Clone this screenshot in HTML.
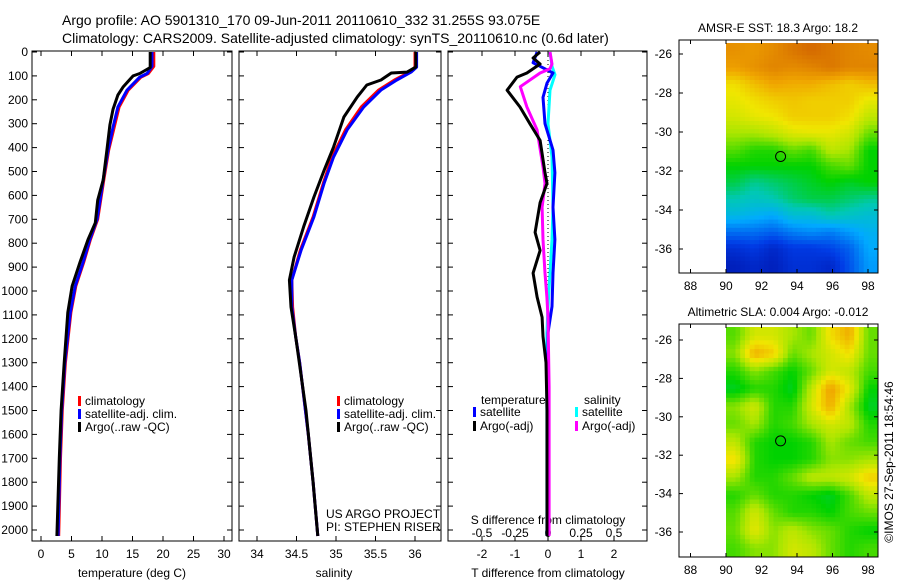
<!DOCTYPE html>
<html><head><meta charset="utf-8"><style>
body{margin:0;background:#fff;}
svg{display:block;font-family:"Liberation Sans",sans-serif;}
</style></head><body>
<svg id="c" width="900" height="580" xmlns="http://www.w3.org/2000/svg">
<text x="62" y="25" font-size="14">Argo profile: AO 5901310_170 09-Jun-2011 20110610_332 31.255S 93.075E</text>
<text x="62" y="43" font-size="14">Climatology: CARS2009. Satellite-adjusted climatology: synTS_20110610.nc (0.6d later)</text>
<g id="g"></g>
</svg>
<script>
// ---- data ----
const depthTicks=[0,100,200,300,400,500,600,700,800,900,1000,1100,1200,1300,1400,1500,1600,1700,1800,1900,2000];
const tTicks=[0,5,10,15,20,25,30];
const sTicks=[34,34.5,35,35.5,36];
const dTTicks=[-2,-1,0,1,2];
const dSTicks=[-0.5,-0.25,0,0.25,0.5];
const dSTickLabels=["-0.5","-0.25","0","0.25","0.5"];
// temperature profiles
const tArgoD=[0,65,90,100,145,180,240,305,410,535,620,715,785,880,980,1090,1300,1500,1700,2025];
const tArgo=[17.9,17.9,16.2,15.1,13.5,12.6,11.8,11.3,10.8,10.2,9.3,8.9,7.7,6.4,5.1,4.4,3.8,3.3,3.0,2.6];
const tClimD=[0,60,90,105,160,230,315,410,535,700,785,880,980,1090,1300,1500,1700,2025];
const tClim=[18.5,18.5,17.6,16.4,14.3,12.8,12.0,11.1,10.3,9.3,8.1,7.0,5.7,4.9,4.0,3.5,3.2,2.9];
const tSat=[18.2,18.2,17.4,16.2,14.1,12.6,11.8,11.0,10.2,9.2,8.0,6.9,5.6,4.8,3.9,3.4,3.1,2.8];
// salinity profiles
const sArgoD=[0,63,84,88,117,138,188,272,397,494,607,732,858,954,1067,1192,1500,1800,2025];
const sArgo=[36.01,36.01,35.90,35.70,35.57,35.39,35.27,35.10,34.97,34.85,34.72,34.59,34.47,34.41,34.43,34.49,34.62,34.71,34.77];
const sClimD=[0,63,84,117,159,230,326,439,548,690,828,954,1067,1192,1300,1600,1800,2025];
const sClim=[36.00,36.00,35.93,35.74,35.54,35.32,35.12,34.95,34.84,34.71,34.55,34.44,34.45,34.49,34.54,34.65,34.71,34.77];
const sSat=[36.02,36.02,35.95,35.77,35.57,35.35,35.14,34.97,34.85,34.72,34.56,34.44,34.44,34.49,34.54,34.65,34.71,34.77];
// differences
const dTArgoD=[0,25,50,88,105,160,230,300,370,505,550,630,755,830,925,1025,1110,1190,1300,1500,2025];
const dTArgo=[-0.24,-0.45,-0.24,-0.64,-0.94,-1.24,-0.85,-0.55,-0.24,-0.09,-0.03,-0.24,-0.39,-0.24,-0.45,-0.33,-0.18,-0.15,-0.06,-0.03,-0.03];
const dSArgoD=[0,50,70,88,145,230,325,480,550,650,785,925,1025,1110,1400,2025];
const dSArgo=[0.015,0.03,0.015,-0.06,-0.21,-0.16,-0.083,-0.038,-0.023,-0.045,-0.038,-0.023,-0.008,0,0.008,0.008];
const dTSatD=[0,45,60,88,130,190,300,410,505,650,785,925,1065,1175,1400,2025];
const dTSat=[-0.33,-0.45,-0.24,0.15,-0.03,-0.15,-0.09,0.15,0.21,0.15,0.21,0.15,0.12,0,0,0];
const dSSatD=[0,60,95,160,300,440,650,785,925,1065,1175,2025];
const dSSat=[0.015,0.03,0.053,0.015,0,0.03,0.038,0.03,0.015,0,-0.008,-0.008];
// maps
const lonTicks=[88,90,92,94,96,98];
const latTicks=[-26,-28,-30,-32,-34,-36];
const sstGrid=[
[.78,.77,.79,.82,.84,.82,.80,.79],
[.76,.78,.80,.79,.80,.82,.80,.80],
[.68,.72,.75,.74,.74,.72,.70,.72],
[.66,.68,.70,.71,.70,.70,.70,.66],
[.64,.66,.67,.70,.70,.70,.68,.62],
[.60,.60,.62,.65,.66,.66,.64,.56],
[.55,.52,.52,.56,.54,.62,.60,.50],
[.50,.50,.50,.50,.50,.54,.56,.50],
[.46,.42,.44,.46,.48,.50,.48,.50],
[.40,.38,.40,.44,.46,.46,.44,.42],
[.34,.32,.30,.36,.36,.40,.38,.36],
[.22,.22,.20,.24,.26,.24,.28,.32],
[.12,.14,.10,.14,.14,.16,.20,.30],
[.08,.10,.08,.12,.12,.10,.18,.28]];
const slaGrid=[
[.55,.64,.64,.60,.56,.68,.74,.56],
[.58,.74,.70,.56,.60,.64,.68,.56],
[.52,.58,.54,.50,.56,.64,.62,.54],
[.48,.52,.52,.48,.62,.76,.66,.50],
[.58,.64,.52,.52,.64,.74,.60,.48],
[.56,.60,.52,.54,.60,.64,.62,.52],
[.62,.52,.50,.50,.52,.60,.56,.54],
[.68,.52,.50,.50,.52,.58,.58,.60],
[.60,.52,.52,.56,.62,.62,.64,.70],
[.52,.56,.52,.52,.50,.48,.54,.62],
[.55,.64,.56,.52,.52,.50,.54,.56],
[.56,.66,.58,.62,.58,.56,.52,.50],
[.54,.58,.58,.64,.62,.56,.52,.54]];
const floatLon=93.075, floatLat=-31.255;

// ---- drawing ----
const NS="http://www.w3.org/2000/svg";
const G=document.getElementById('g');
function el(t,a,p){const e=document.createElementNS(NS,t);for(const k in a)e.setAttribute(k,a[k]);(p||G).appendChild(e);return e;}
function txt(x,y,s,anchor,size){const e=el('text',{x:x,y:y,'font-size':size||12,'text-anchor':anchor||'start'});e.textContent=s;return e;}
const yD=d=>52+d*0.239;
const P1={x0:32,x1:232,fx:v=>41+v*6.1};
const P2={x0:239,x1:441,fx:v=>257+(v-34)*79};
const P3={x0:448,x1:647,fx:v=>548+v*33,fs:v=>548+v*132};
const yTop=51,yBot=541;
function frame(P,name){const r=el('rect',{x:P.x0,y:yTop,width:P.x1-P.x0,height:yBot-yTop,fill:'none',stroke:'#000'});

}
function xTicks(P,vals,f,labels,y,name){vals.forEach((v,i)=>{const x=f(v);
el('line',{x1:x,x2:x,y1:yTop,y2:yTop+5,stroke:'#000'});el('line',{x1:x,x2:x,y1:yBot,y2:yBot-5,stroke:'#000'});
const t=txt(x,y,labels?labels[i]:String(v),'middle');

});}
function line(ds,vs,fx,col,w,name){const pts=ds.map((d,i)=>fx(vs[i]).toFixed(1)+','+yD(d).toFixed(1)).join(' ');
const p=el('polyline',{points:pts,fill:'none',stroke:col,'stroke-width':w||3,'stroke-linejoin':'round'});

}
// panel1
frame(P1,'temperature-panel');
depthTicks.forEach(d=>{const y=yD(d);el('line',{x1:P1.x0,x2:P1.x0+5,y1:y,y2:y,stroke:'#000'});el('line',{x1:P1.x1,x2:P1.x1-5,y1:y,y2:y,stroke:'#000'});
const t=txt(28,y+4,String(d),'end');

});
xTicks(P1,tTicks,P1.fx,null,558,'temperature-tick-label');
let t1=txt(132,577,'temperature (deg C)','middle');


line(tClimD,tClim,P1.fx,'#f00',3,'temperature-climatology-line');
line(tClimD,tSat,P1.fx,'#00f',3,'temperature-satellite-line');
line(tArgoD,tArgo,P1.fx,'#000',3,'temperature-argo-line');
// panel2
frame(P2,'salinity-panel');
depthTicks.forEach(d=>{const y=yD(d);el('line',{x1:P2.x0,x2:P2.x0+5,y1:y,y2:y,stroke:'#000'});el('line',{x1:P2.x1,x2:P2.x1-5,y1:y,y2:y,stroke:'#000'});});
xTicks(P2,sTicks,P2.fx,null,558,'salinity-tick-label');
let t2=txt(334,577,'salinity','middle');


line(sClimD,sClim,P2.fx,'#f00',3,'salinity-climatology-line');
line(sClimD,sSat,P2.fx,'#00f',3,'salinity-satellite-line');
line(sArgoD,sArgo,P2.fx,'#000',3,'salinity-argo-line');
// panel3
frame(P3,'difference-panel');
depthTicks.forEach(d=>{const y=yD(d);el('line',{x1:P3.x0,x2:P3.x0+5,y1:y,y2:y,stroke:'#000'});el('line',{x1:P3.x1,x2:P3.x1-5,y1:y,y2:y,stroke:'#000'});});
xTicks(P3,dTTicks,P3.fx,null,558,'t-diff-tick-label');
dSTicks.forEach((v,i)=>{const t=txt(P3.fs(v),537,dSTickLabels[i],'middle');

});
let t3=txt(548,524,'S difference from climatology','middle');


let t4=txt(548,577,'T difference from climatology','middle');


el('line',{x1:P3.fx(0),x2:P3.fx(0),y1:yD(0),y2:yBot,stroke:'#000','stroke-dasharray':'1,3'});
line(dSSatD,dSSat,P3.fs,'#0ff',3,'s-diff-satellite-line');
line(dTSatD,dTSat,P3.fx,'#00f',3,'t-diff-satellite-line');
line(dSArgoD,dSArgo,P3.fs,'#f0f',3,'s-diff-argo-line');
line(dTArgoD,dTArgo,P3.fx,'#000',3,'t-diff-argo-line');
// legends
function leg(x,y,col,label,name){el('rect',{x:x,y:y-9,width:3,height:10,fill:col});const t=txt(x+7,y,label);

}
[[P1,78],[P2,337]].forEach(([P,x],k)=>{const n=k?'salinity':'temperature';
leg(x,405,'#f00','climatology',n+'-legend-climatology');
leg(x,418,'#00f','satellite-adj. clim.',n+'-legend-satellite');
leg(x,431,'#000','Argo(..raw -QC)',n+'-legend-argo');});
txt(326,518,'US ARGO PROJECT');txt(326,531,'PI: STEPHEN RISER');
txt(481,404,'temperature');txt(584,404,'salinity');
leg(473,416,'#00f','satellite','diff-legend-t-satellite');leg(473,430,'#000','Argo(-adj)','diff-legend-t-argo');
leg(575,416,'#0ff','satellite','diff-legend-s-satellite');leg(575,430,'#f0f','Argo(-adj)','diff-legend-s-argo');
// maps
const cmapStops=[[0,0,0,140],[0.15,0,60,230],[0.3,0,170,255],[0.4,0,200,180],[0.5,0,210,0],[0.6,170,230,0],[0.67,240,230,0],[0.75,240,165,0],[0.85,210,100,0],[1,180,40,0]];
function cmap(v){v=Math.max(0,Math.min(1,v));for(let i=1;i<cmapStops.length;i++){const a=cmapStops[i-1],b=cmapStops[i];if(v<=b[0]){const f=(v-a[0])/(b[0]-a[0]);
return `rgb(${Math.round(a[1]+f*(b[1]-a[1]))},${Math.round(a[2]+f*(b[2]-a[2]))},${Math.round(a[3]+f*(b[3]-a[3]))})`;}}return 'rgb(180,40,0)';}
function sample(grid,fr,fc){const R=grid.length,C=grid[0].length;fr=Math.max(0,Math.min(R-1,fr));fc=Math.max(0,Math.min(C-1,fc));
const r0=Math.floor(fr),c0=Math.floor(fc),r1=Math.min(R-1,r0+1),c1=Math.min(C-1,c0+1),a=fr-r0,b=fc-c0;
return grid[r0][c0]*(1-a)*(1-b)+grid[r0][c1]*(1-a)*b+grid[r1][c0]*a*(1-b)+grid[r1][c1]*a*b;}
function map(M,grid,title,name){
const fx=lon=>726+(lon-90)*17.75, fy=lat=>M.y26+(-26-lat)*M.dy;
const t=txt(778,M.ty,title,'middle');


const rows=grid.length,cols=grid[0].length,lonMax=98.56,latTop=-26+(M.y26-M.imgTop)/M.dy,latBot=-26-(M.fb-M.y26)/M.dy;
const S=4,NR=rows*S,NC=cols*S,cw=(lonMax-90)/NC,ch=(latTop-latBot)/NR;
for(let r=0;r<NR;r++)for(let c=0;c<NC;c++){const v=sample(grid,(r+0.5)/S-0.5,(c+0.5)/S-0.5);
const x0=fx(90+c*cw),y0=fy(latTop-r*ch);
const cell=el('rect',{x:x0.toFixed(1),y:y0.toFixed(1),width:(fx(90+(c+1)*cw)-x0+0.5).toFixed(1),height:(fy(latTop-(r+1)*ch)-y0+0.5).toFixed(1),fill:cmap(v)});

}
const f=el('rect',{x:679,y:M.ft,width:199,height:M.fb-M.ft,fill:'none',stroke:'#000'});


latTicks.forEach(l=>{const y=fy(l);el('line',{x1:679,x2:683,y1:y,y2:y,stroke:'#000'});el('line',{x1:878,x2:874,y1:y,y2:y,stroke:'#000'});
const lt=txt(672,y+4,String(l),'end');

});
lonTicks.forEach(l=>{const x=fx(l);el('line',{x1:x,x2:x,y1:M.fb,y2:M.fb-4,stroke:'#000'});el('line',{x1:x,x2:x,y1:M.ft,y2:M.ft+4,stroke:'#000'});
const lt=txt(x,M.fb+17,String(l),'middle');

});
const m=el('circle',{cx:fx(floatLon),cy:fy(floatLat),r:5,fill:'none',stroke:'#000'});

}
map({ty:32,ft:40,fb:273,imgTop:43,y26:54,dy:19.5},sstGrid,'AMSR-E SST: 18.3 Argo: 18.2','sst-map');
map({ty:316,ft:324,fb:557,imgTop:327,y26:340,dy:19.2},slaGrid,'Altimetric SLA: 0.004  Argo: -0.012','sla-map');
const cr=txt(0,0,'©IMOS 27-Sep-2011 18:54:46','middle');
cr.setAttribute('transform','translate(893,462) rotate(-90)');


</script>
</body></html>
